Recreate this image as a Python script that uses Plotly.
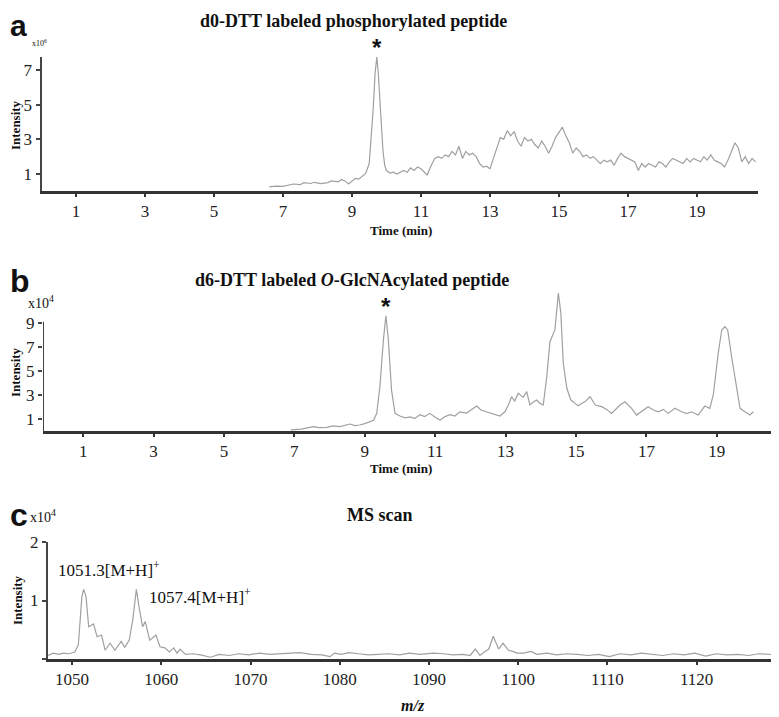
import plotly.graph_objects as go

# ---- panel a: d0-DTT labeled phosphorylated peptide (x10^6) ----
time_a = [6.6, 6.8, 7.0, 7.2, 7.3, 7.5, 7.6, 7.8, 7.9, 8.1, 8.3, 8.4, 8.6, 8.7, 8.8, 8.9,
          9.0, 9.1, 9.2, 9.3, 9.4, 9.5, 9.55, 9.62, 9.67, 9.72, 9.76, 9.8, 9.85, 9.9, 9.95,
          10.0, 10.1, 10.2, 10.3, 10.4, 10.5, 10.6, 10.7, 10.8, 10.9, 11.0, 11.1, 11.18,
          11.3, 11.4, 11.5, 11.6, 11.7, 11.8, 11.9, 12.0, 12.1, 12.2, 12.3, 12.4, 12.5,
          12.6, 12.7, 12.8, 12.9, 13.0, 13.1, 13.2, 13.3, 13.4, 13.5, 13.6, 13.7, 13.8,
          13.9, 14.0, 14.1, 14.2, 14.3, 14.4, 14.5, 14.6, 14.7, 14.8, 14.9, 15.0, 15.1,
          15.2, 15.3, 15.4, 15.5, 15.6, 15.7, 15.8, 15.9, 16.0, 16.1, 16.2, 16.3, 16.4,
          16.5, 16.6, 16.7, 16.8, 16.9, 17.0, 17.1, 17.2, 17.3, 17.4, 17.5, 17.6, 17.7,
          17.8, 17.9, 18.0, 18.1, 18.2, 18.3, 18.4, 18.5, 18.6, 18.7, 18.8, 18.9, 19.0,
          19.1, 19.2, 19.3, 19.4, 19.5, 19.6, 19.7, 19.8, 19.9, 20.0, 20.1, 20.2, 20.3,
          20.4, 20.5, 20.6, 20.7]
int_a = [0.25, 0.3, 0.28, 0.35, 0.42, 0.38, 0.5, 0.45, 0.52, 0.44, 0.5, 0.6, 0.55, 0.68, 0.6, 0.42,
         0.6, 0.75, 0.7, 0.9, 1.05, 1.6, 2.8, 4.9, 6.8, 7.75, 6.9, 5.6, 3.8, 2.3, 1.5,
         1.2, 1.05, 1.1, 1.0, 1.1, 1.2, 1.1, 1.35, 1.2, 1.4, 1.3, 1.1, 0.95,
         1.5, 1.9, 2.0, 1.9, 2.1, 2.0, 2.3, 2.1, 2.6, 1.9, 2.3, 2.1, 2.2,
         2.0, 1.6, 1.4, 1.45, 1.3, 1.9, 2.5, 3.1, 3.0, 3.5, 3.2, 3.45, 2.9,
         2.6, 3.1, 2.9, 3.0, 2.7, 2.5, 2.9, 2.6, 2.2, 2.6, 3.1, 3.4, 3.7,
         3.2, 2.8, 2.2, 2.5, 2.3, 2.0, 2.1, 1.9, 2.0, 1.8, 1.6, 1.8, 1.7,
         1.8, 1.5, 1.9, 2.2, 2.0, 1.9, 1.8, 1.7, 1.2, 1.6, 1.4, 1.6, 1.5,
         1.4, 1.7, 1.6, 1.4, 1.7, 1.9, 1.8, 1.7, 1.6, 1.9, 1.7, 1.9, 1.8,
         1.7, 2.0, 1.8, 2.1, 1.8, 1.7, 1.6, 1.4, 1.8, 2.3, 2.8, 2.5, 1.7,
         2.0, 1.6, 1.9, 1.7]

# ---- panel b: d6-DTT labeled O-GlcNAcylated peptide (x10^4) ----
time_b = [6.9, 7.2, 7.54, 7.7, 7.92, 8.1, 8.3, 8.45, 8.58, 8.72, 8.86, 9.0, 9.15, 9.25, 9.34,
          9.43, 9.53, 9.6, 9.67, 9.76, 9.86, 10.0, 10.15, 10.28, 10.42, 10.57, 10.7, 10.85,
          11.0, 11.14, 11.28, 11.42, 11.56, 11.7, 11.89, 12.05, 12.18, 12.3, 12.46, 12.65,
          12.84, 12.98, 13.1, 13.17, 13.26, 13.36, 13.5, 13.6, 13.69, 13.78, 13.88, 13.98,
          14.07, 14.17, 14.26, 14.4, 14.5, 14.57, 14.64, 14.74, 14.85, 14.97, 15.06, 15.16,
          15.28, 15.4, 15.55, 15.73, 15.87, 16.01, 16.13, 16.25, 16.39, 16.58, 16.72, 16.88,
          17.05, 17.2, 17.34, 17.48, 17.62, 17.81, 18.0, 18.15, 18.29, 18.47, 18.66, 18.8,
          18.9, 19.04, 19.14, 19.23, 19.31, 19.42, 19.56, 19.66, 19.8, 19.94, 20.04]
int_b = [0.1, 0.15, 0.36, 0.28, 0.3, 0.42, 0.36, 0.5, 0.58, 0.45, 0.5, 0.62, 0.78, 0.9, 1.47,
         3.7, 7.6, 9.6, 7.6, 3.4, 1.47, 1.25, 1.1, 1.17, 1.05, 1.36, 1.2, 1.47,
         1.15, 0.92, 1.2, 1.36, 1.25, 1.6, 1.5, 1.8, 2.08, 1.75, 1.6, 1.45,
         1.25, 1.6, 2.3, 2.86, 2.5, 3.14, 2.8, 3.28, 2.17, 2.4, 2.58, 2.3,
         2.17, 4.53, 7.44, 8.42, 11.5, 9.8, 5.64, 3.56, 2.6, 2.3, 2.1, 2.3,
         2.5, 2.86, 2.17, 2.03, 1.8, 1.47, 1.8, 2.17, 2.44, 1.89, 1.33, 1.7,
         2.03, 1.75, 1.6, 1.8, 1.47, 1.89, 1.6, 1.45, 1.6, 1.33, 2.08, 1.89,
         3.0, 6.47, 8.42, 8.69, 8.42, 6.19, 3.69, 1.89, 1.6, 1.33, 1.6]

# ---- panel c: MS scan (x10^4) ----
mz_c = [1047.3, 1047.9, 1048.5, 1049.0, 1049.6, 1050.3, 1050.7, 1051.1, 1051.3, 1051.56,
        1051.86, 1052.4, 1052.8, 1053.3, 1053.7, 1054.26, 1054.8, 1055.5, 1055.9, 1056.4,
        1056.8, 1057.2, 1057.5, 1057.9, 1058.2, 1058.7, 1059.4, 1059.85, 1060.4, 1060.9,
        1061.4, 1061.75, 1062.1, 1062.7, 1063.5, 1064.4, 1065.5, 1066.5, 1067.6, 1068.7,
        1069.8, 1071.0, 1072.2, 1073.3, 1074.4, 1075.5, 1076.8, 1078.0, 1078.9, 1079.4,
        1080.2, 1081.0, 1082.1, 1083.2, 1084.3, 1085.5, 1086.7, 1087.8, 1089.0, 1090.5,
        1091.6, 1092.7, 1093.8, 1094.6, 1095.2, 1095.7, 1096.2, 1096.7, 1097.2, 1097.8,
        1098.3, 1098.9, 1099.4, 1099.85, 1100.6, 1101.4, 1102.1, 1103.2, 1104.3, 1105.4,
        1106.6, 1107.8, 1109.0, 1110.2, 1111.4, 1112.6, 1113.8, 1115.0, 1116.2, 1117.4,
        1118.6, 1119.8, 1121.0, 1122.2, 1123.4, 1124.6, 1125.8, 1127.0, 1128.2, 1129.0]
int_c = [0.06, 0.1, 0.08, 0.1, 0.09, 0.12, 0.24, 1.07, 1.19, 1.07,
         0.55, 0.6, 0.38, 0.41, 0.15, 0.27, 0.15, 0.3, 0.2, 0.32,
         0.67, 1.19, 0.89, 0.55, 0.64, 0.32, 0.41, 0.21, 0.19, 0.12,
         0.19, 0.1, 0.17, 0.08, 0.09, 0.07, 0.03, 0.08, 0.06, 0.09,
         0.07, 0.1, 0.08, 0.09, 0.09, 0.11, 0.08, 0.07, 0.04, 0.1,
         0.08, 0.11, 0.09, 0.07, 0.08, 0.09, 0.07, 0.1, 0.08, 0.1,
         0.09, 0.07, 0.08, 0.06, 0.17, 0.06, 0.12, 0.17, 0.39, 0.17,
         0.27, 0.15, 0.13, 0.1, 0.1, 0.13, 0.08, 0.1, 0.07, 0.09,
         0.08, 0.06, 0.08, 0.04, 0.09, 0.07, 0.1, 0.08, 0.06, 0.09,
         0.07, 0.1, 0.05, 0.09, 0.07, 0.08, 0.06, 0.09, 0.08, 0.07]

ticks_time = [1, 3, 5, 7, 9, 11, 13, 15, 17, 19]
ticks_mz = [1050, 1060, 1070, 1080, 1090, 1100, 1110, 1120]

W, H = 779, 717
PAGE_PAD = 8  # default body margin of the html page shifts the plot by this much
SERIF = "Liberation Serif, Times New Roman, serif"
LINE = dict(color="#a0a0a0", width=1.2)
TICKFONT = dict(family=SERIF, size=17, color="#222")


def px_x(p):
    # page pixel -> paper fraction
    return (p - PAGE_PAD) / W


def px_y(p):
    return 1 - (p - PAGE_PAD) / H


fig = go.Figure()
fig.add_trace(go.Scatter(x=time_a, y=int_a, mode="lines", line=LINE, xaxis="x", yaxis="y"))
fig.add_trace(go.Scatter(x=time_b, y=int_b, mode="lines", line=LINE, xaxis="x2", yaxis="y2"))
fig.add_trace(go.Scatter(x=mz_c, y=int_c, mode="lines", line=LINE, xaxis="x3", yaxis="y3"))

fig.update_layout(
    width=W, height=H, margin=dict(l=0, r=0, t=0, b=0),
    paper_bgcolor="white", plot_bgcolor="white", showlegend=False,
    font=dict(family=SERIF, size=17, color="#222"),
    xaxis=dict(domain=[px_x(41.5), px_x(758)], range=[0, 20.77], tickvals=ticks_time, anchor="y"),
    yaxis=dict(domain=[px_y(191.3), px_y(57)], range=[0, 7.75], tickvals=[1, 3, 5, 7],
               showline=True, anchor="x"),
    xaxis2=dict(domain=[px_x(43), px_x(777)], range=[-0.14, 20.71], tickvals=ticks_time, anchor="y2"),
    yaxis2=dict(domain=[px_y(431), px_y(288.2)], range=[0, 11.9], tickvals=[1, 3, 5, 7, 9],
                showline=False, anchor="x2"),
    xaxis3=dict(domain=[px_x(48), px_x(777)], range=[1047.3, 1129.0], tickvals=ticks_mz, anchor="y3"),
    yaxis3=dict(domain=[px_y(659), px_y(542)], range=[0, 2], tickvals=[0, 1, 2],
                ticktext=["", "1", "2"], showline=True, anchor="x3"),
)
fig.update_xaxes(showgrid=False, zeroline=False, showline=True, linecolor="#333", linewidth=2.5,
                 ticks="outside", ticklen=3, tickwidth=2, tickcolor="#333", tickfont=TICKFONT,
                 automargin=False)
fig.update_yaxes(showgrid=False, zeroline=False, linecolor="#444", linewidth=2,
                 ticks="outside", ticklen=4, tickwidth=1.5, tickcolor="#444", tickfont=TICKFONT,
                 automargin=False)

# panel b y-axis line only reaches the top tick
fig.add_shape(type="line", xref="x2", yref="y2", x0=-0.14, x1=-0.14, y0=0, y1=9.1,
              line=dict(color="#444", width=2))


def paper_text(x, y, text, size, family=SERIF, xanchor="center", angle=0):
    fig.add_annotation(x=px_x(x), y=px_y(y), xref="paper", yref="paper", text=text,
                       showarrow=False, xanchor=xanchor, yanchor="middle", textangle=angle,
                       font=dict(family=family, size=size, color="#111"))


# panel letters
paper_text(8, 26, "<b>a</b>", 30, family="Liberation Sans", xanchor="left")
paper_text(8, 281, "<b>b</b>", 32, family="Liberation Sans", xanchor="left")
paper_text(8, 515, "<b>c</b>", 32, family="Liberation Sans", xanchor="left")

# titles
paper_text(353, 21, "<b>d0-DTT labeled phosphorylated peptide</b>", 18)
paper_text(352, 280, "<b>d6-DTT labeled <i>O</i>-GlcNAcylated peptide</b>", 18)
paper_text(380, 515, "<b>MS scan</b>", 18)

# multipliers
paper_text(30, 43, "x10<sup>6</sup>", 8, xanchor="left")
paper_text(26, 302, "x10<sup>4</sup>", 14, xanchor="left")
paper_text(28, 516, "x10<sup>4</sup>", 14, xanchor="left")

# axis titles
paper_text(15, 125, "<b>Intensity</b>", 13, angle=-90)
paper_text(15, 372, "<b>Intensity</b>", 13, angle=-90)
paper_text(17, 600, "<b>Intensity</b>", 13, angle=-90)
paper_text(401, 231, "<b>Time (min)</b>", 13)
paper_text(401, 469, "<b>Time (min)</b>", 13)
paper_text(413, 705, "<b><i>m/z</i></b>", 16)

# peak markers
fig.add_annotation(x=9.72, y=7.75, xref="x", yref="y", text="<b>*</b>", showarrow=False,
                   yanchor="bottom", yshift=-6, font=dict(family="Liberation Sans", size=24, color="#111"))
fig.add_annotation(x=9.6, y=9.6, xref="x2", yref="y2", text="<b>*</b>", showarrow=False,
                   yanchor="bottom", yshift=-6, font=dict(family="Liberation Sans", size=24, color="#111"))

# MS peak labels
paper_text(56, 569, "1051.3[M+H]<sup>+</sup>", 17, xanchor="left")
paper_text(147, 596, "1057.4[M+H]<sup>+</sup>", 17, xanchor="left")

fig.write_html("out.html")
